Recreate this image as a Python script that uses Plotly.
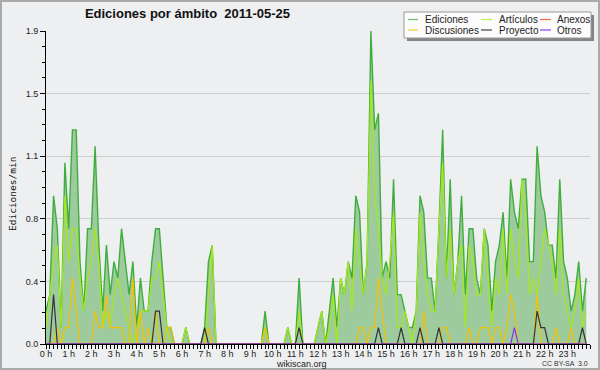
import plotly.graph_objects as go

# ---- data (edits per minute, 10-minute bins, 2011-05-25) ----
bin_minutes = list(range(0, 1440, 10))

ediciones = [
    0.2, 0.3, 0.9, 0.7, 0.1, 1.1,
    0.7, 1.3, 1.3, 0.5, 0.2, 0.7,
    0.7, 1.2, 0.6, 0.2, 0.6, 0.3,
    0.5, 0.4, 0.7, 0.5, 0.3, 0.5,
    0.1, 0.4, 0.2, 0.2, 0.5, 0.7,
    0.7, 0.4, 0.1, 0.1, 0.0, 0.0,
    0.0, 0.1, 0.0, 0.0, 0.0, 0.0,
    0.1, 0.5, 0.6, 0.0, 0.0, 0.0,
    0.0, 0.0, 0.0, 0.0, 0.0, 0.0,
    0.0, 0.0, 0.0, 0.0, 0.2, 0.0,
    0.0, 0.0, 0.0, 0.0, 0.1, 0.0,
    0.0, 0.4, 0.0, 0.0, 0.0, 0.0,
    0.1, 0.2, 0.0, 0.2, 0.4, 0.1,
    0.4, 0.3, 0.5, 0.4, 0.9, 0.8,
    0.3, 0.5, 1.9, 1.3, 1.4, 0.4,
    0.5, 0.4, 1.0, 0.3, 0.3, 0.2,
    0.1, 0.1, 0.2, 0.9, 0.8, 0.4,
    0.4, 0.2, 0.7, 1.3, 0.4, 1.0,
    0.3, 0.5, 0.9, 0.3, 0.7, 0.7,
    0.4, 0.3, 0.7, 0.6, 0.2, 0.5,
    0.6, 0.8, 0.4, 1.0, 0.8, 0.7,
    1.0, 1.0, 0.5, 0.5, 1.2, 0.9,
    0.8, 0.6, 0.6, 0.4, 1.0, 0.5,
    0.4, 0.2, 0.3, 0.5, 0.2, 0.4,
]

articulos = [
    0.1, 0.3, 0.5, 0.6, 0.1, 0.9,
    0.5, 0.7, 0.7, 0.4, 0.2, 0.4,
    0.5, 0.7, 0.5, 0.1, 0.2, 0.1,
    0.3, 0.4, 0.3, 0.2, 0.1, 0.0,
    0.1, 0.2, 0.2, 0.2, 0.4, 0.4,
    0.5, 0.3, 0.1, 0.0, 0.0, 0.0,
    0.0, 0.1, 0.0, 0.0, 0.0, 0.0,
    0.0, 0.3, 0.6, 0.0, 0.0, 0.0,
    0.0, 0.0, 0.0, 0.0, 0.0, 0.0,
    0.0, 0.0, 0.0, 0.0, 0.1, 0.0,
    0.0, 0.0, 0.0, 0.0, 0.1, 0.0,
    0.0, 0.2, 0.0, 0.0, 0.0, 0.0,
    0.1, 0.2, 0.0, 0.1, 0.3, 0.0,
    0.4, 0.3, 0.5, 0.2, 0.7, 0.5,
    0.3, 0.5, 1.6, 0.9, 0.7, 0.4,
    0.3, 0.5, 0.8, 0.1, 0.1, 0.2,
    0.1, 0.0, 0.2, 0.8, 0.5, 0.3,
    0.2, 0.2, 0.7, 1.1, 0.4, 0.7,
    0.3, 0.5, 0.6, 0.1, 0.6, 0.5,
    0.3, 0.3, 0.7, 0.4, 0.1, 0.4,
    0.3, 0.7, 0.3, 0.7, 0.5, 0.4,
    1.0, 0.8, 0.3, 0.4, 0.3, 0.5,
    0.7, 0.6, 0.5, 0.3, 0.7, 0.3,
    0.2, 0.1, 0.2, 0.4, 0.1, 0.2,
]

discusiones = [
    0.0, 0.0, 0.0, 0.1, 0.0, 0.1,
    0.1, 0.4, 0.2, 0.0, 0.0, 0.0,
    0.0, 0.2, 0.1, 0.1, 0.3, 0.1,
    0.1, 0.1, 0.1, 0.0, 0.0, 0.4,
    0.0, 0.2, 0.0, 0.1, 0.0, 0.2,
    0.0, 0.0, 0.1, 0.1, 0.0, 0.0,
    0.0, 0.0, 0.0, 0.0, 0.0, 0.0,
    0.0, 0.1, 0.0, 0.0, 0.0, 0.0,
    0.0, 0.0, 0.0, 0.0, 0.0, 0.0,
    0.0, 0.0, 0.0, 0.0, 0.1, 0.0,
    0.0, 0.0, 0.0, 0.0, 0.0, 0.0,
    0.0, 0.0, 0.0, 0.0, 0.0, 0.0,
    0.0, 0.0, 0.0, 0.0, 0.0, 0.0,
    0.0, 0.0, 0.0, 0.0, 0.0, 0.1,
    0.1, 0.0, 0.1, 0.1, 0.4, 0.2,
    0.0, 0.0, 0.0, 0.0, 0.0, 0.0,
    0.0, 0.0, 0.0, 0.0, 0.2, 0.0,
    0.0, 0.0, 0.0, 0.1, 0.1, 0.0,
    0.0, 0.0, 0.0, 0.0, 0.1, 0.0,
    0.0, 0.1, 0.1, 0.1, 0.0, 0.1,
    0.1, 0.0, 0.1, 0.3, 0.2, 0.0,
    0.0, 0.0, 0.0, 0.0, 0.3, 0.0,
    0.0, 0.0, 0.0, 0.1, 0.0, 0.0,
    0.0, 0.1, 0.0, 0.0, 0.0, 0.0,
]

proyecto = [
    0.0, 0.0, 0.3, 0.0, 0.0, 0.0,
    0.0, 0.0, 0.0, 0.0, 0.0, 0.0,
    0.0, 0.0, 0.0, 0.0, 0.0, 0.0,
    0.0, 0.0, 0.0, 0.0, 0.0, 0.0,
    0.0, 0.0, 0.0, 0.0, 0.0, 0.2,
    0.2, 0.0, 0.0, 0.0, 0.0, 0.0,
    0.0, 0.0, 0.0, 0.0, 0.0, 0.0,
    0.1, 0.0, 0.0, 0.0, 0.0, 0.0,
    0.0, 0.0, 0.0, 0.0, 0.0, 0.0,
    0.0, 0.0, 0.0, 0.0, 0.0, 0.0,
    0.0, 0.0, 0.0, 0.0, 0.0, 0.0,
    0.0, 0.1, 0.0, 0.0, 0.0, 0.0,
    0.0, 0.0, 0.0, 0.0, 0.0, 0.0,
    0.0, 0.0, 0.0, 0.0, 0.0, 0.0,
    0.0, 0.0, 0.0, 0.0, 0.1, 0.0,
    0.0, 0.0, 0.0, 0.0, 0.1, 0.0,
    0.0, 0.0, 0.0, 0.1, 0.0, 0.0,
    0.0, 0.0, 0.1, 0.0, 0.0, 0.0,
    0.0, 0.0, 0.0, 0.0, 0.0, 0.0,
    0.0, 0.0, 0.0, 0.0, 0.0, 0.0,
    0.0, 0.0, 0.0, 0.0, 0.0, 0.0,
    0.0, 0.0, 0.0, 0.0, 0.2, 0.1,
    0.1, 0.0, 0.0, 0.0, 0.0, 0.0,
    0.0, 0.0, 0.0, 0.0, 0.1, 0.0,
]

anexos = [
    0.0, 0.0, 0.0, 0.0, 0.0, 0.0,
    0.0, 0.0, 0.0, 0.0, 0.0, 0.0,
    0.0, 0.0, 0.0, 0.0, 0.0, 0.0,
    0.0, 0.0, 0.0, 0.0, 0.0, 0.0,
    0.0, 0.0, 0.0, 0.0, 0.0, 0.0,
    0.0, 0.0, 0.0, 0.0, 0.0, 0.0,
    0.0, 0.0, 0.0, 0.0, 0.0, 0.0,
    0.0, 0.0, 0.0, 0.0, 0.0, 0.0,
    0.0, 0.0, 0.0, 0.0, 0.0, 0.0,
    0.0, 0.0, 0.0, 0.0, 0.0, 0.0,
    0.0, 0.0, 0.0, 0.0, 0.0, 0.0,
    0.0, 0.0, 0.0, 0.0, 0.0, 0.0,
    0.0, 0.0, 0.0, 0.0, 0.0, 0.0,
    0.0, 0.0, 0.0, 0.0, 0.0, 0.0,
    0.0, 0.0, 0.0, 0.0, 0.0, 0.0,
    0.0, 0.0, 0.0, 0.0, 0.0, 0.0,
    0.0, 0.0, 0.0, 0.0, 0.0, 0.0,
    0.0, 0.0, 0.0, 0.0, 0.0, 0.0,
    0.0, 0.0, 0.0, 0.0, 0.0, 0.0,
    0.0, 0.0, 0.0, 0.0, 0.0, 0.0,
    0.0, 0.0, 0.0, 0.0, 0.0, 0.0,
    0.0, 0.0, 0.0, 0.0, 0.0, 0.0,
    0.0, 0.0, 0.0, 0.0, 0.0, 0.0,
    0.0, 0.0, 0.0, 0.0, 0.0, 0.0,
]

otros = [
    0.0, 0.0, 0.0, 0.0, 0.0, 0.0,
    0.0, 0.0, 0.0, 0.0, 0.0, 0.0,
    0.0, 0.0, 0.0, 0.0, 0.0, 0.0,
    0.0, 0.0, 0.0, 0.0, 0.0, 0.0,
    0.0, 0.0, 0.0, 0.0, 0.0, 0.0,
    0.0, 0.0, 0.0, 0.0, 0.0, 0.0,
    0.0, 0.0, 0.0, 0.0, 0.0, 0.0,
    0.0, 0.0, 0.0, 0.0, 0.0, 0.0,
    0.0, 0.0, 0.0, 0.0, 0.0, 0.0,
    0.0, 0.0, 0.0, 0.0, 0.0, 0.0,
    0.0, 0.0, 0.0, 0.0, 0.0, 0.0,
    0.0, 0.0, 0.0, 0.0, 0.0, 0.0,
    0.0, 0.0, 0.0, 0.0, 0.0, 0.0,
    0.0, 0.0, 0.0, 0.0, 0.0, 0.0,
    0.0, 0.0, 0.0, 0.0, 0.0, 0.0,
    0.0, 0.0, 0.0, 0.0, 0.0, 0.0,
    0.0, 0.0, 0.0, 0.0, 0.0, 0.0,
    0.0, 0.0, 0.0, 0.0, 0.0, 0.0,
    0.0, 0.0, 0.0, 0.0, 0.0, 0.0,
    0.0, 0.0, 0.0, 0.0, 0.0, 0.0,
    0.0, 0.0, 0.0, 0.0, 0.1, 0.0,
    0.0, 0.0, 0.0, 0.0, 0.0, 0.0,
    0.0, 0.0, 0.0, 0.0, 0.0, 0.0,
    0.0, 0.0, 0.0, 0.0, 0.0, 0.0,
]

series_names = ["Ediciones", "Artículos", "Anexos", "Discusiones", "Proyecto", "Otros"]
hour_ticks = list(range(24))
hour_labels = [f"{h} h" for h in hour_ticks]
y_tick_vals = [0.0, 0.38, 0.76, 1.14, 1.52, 1.9]
y_tick_labels = ["0.0", "0.4", "0.8", "1.1", "1.5", "1.9"]
title_text = "Ediciones por ámbito  2011-05-25"
y_title = "Ediciones/min"

# ---- styling ----
colors = {
    "Ediciones": "#3fae3f",
    "Artículos": "#a6e81a",
    "Anexos": "#ff6030",
    "Discusiones": "#f4c200",
    "Proyecto": "#333333",
    "Otros": "#8a33ee",
}
legend_colors = {
    "Ediciones": "#66c466",
    "Artículos": "#c2ee55",
    "Anexos": "#f46a3a",
    "Discusiones": "#f8c830",
    "Proyecto": "#444444",
    "Otros": "#9040ee",
}
W, H = 600, 370
ML, MR, MT, MB = 46, 10, 31, 26
PW, PH = W - ML - MR, H - MT - MB


def px(xp):
    return (xp - ML) / PW


def py(yp):
    return (H - MB - yp) / PH


x_hours = [m / 60 for m in bin_minutes]
FONT = "Liberation Sans, Arial, sans-serif"

fig = go.Figure()
fig.add_trace(go.Scatter(
    x=x_hours, y=ediciones, name="Ediciones", mode="lines",
    line=dict(color=colors["Ediciones"], width=1.4),
    fill="tozeroy", fillcolor="#9ecb9e", showlegend=False,
))
for name, vals, w in [("Artículos", articulos, 1.2), ("Discusiones", discusiones, 1.2),
                      ("Anexos", anexos, 1.2), ("Proyecto", proyecto, 1.2), ("Otros", otros, 1.2)]:
    fig.add_trace(go.Scatter(
        x=x_hours, y=vals, name=name, mode="lines",
        line=dict(color=colors[name], width=w), showlegend=False,
    ))

shapes = []
annotations = []

# outer frame
shapes.append(dict(type="rect", xref="paper", yref="paper",
                   x0=px(1), x1=px(599), y0=py(369), y1=py(1),
                   line=dict(color="#aaaaaa", width=2), fillcolor="rgba(0,0,0,0)", layer="above"))

# legend box with shadow
shapes.append(dict(type="rect", xref="paper", yref="paper",
                   x0=px(407), x1=px(594), y0=py(41), y1=py(15),
                   line=dict(width=0), fillcolor="#858585", layer="above"))
shapes.append(dict(type="rect", xref="paper", yref="paper",
                   x0=px(404), x1=px(591), y0=py(38), y1=py(12),
                   line=dict(color="#999999", width=1), fillcolor="#fcfcfc", layer="above"))

col_line_x = [(408, 418), (481, 492), (540, 551)]
col_text_x = [423, 497, 555]
row_y = [19.5, 30]
for k, name in enumerate(series_names):
    r, c = divmod(k, 3)
    x0, x1 = col_line_x[c]
    shapes.append(dict(type="line", xref="paper", yref="paper",
                       x0=px(x0), x1=px(x1), y0=py(row_y[r]), y1=py(row_y[r]),
                       line=dict(color=legend_colors[name], width=1.2), layer="above"))
    annotations.append(dict(xref="paper", yref="paper", x=px(col_text_x[c]), y=py(row_y[r]),
                            text=name, showarrow=False, xanchor="left", yanchor="middle",
                            font=dict(family=FONT, size=10, color="#222222")))

annotations.append(dict(xref="paper", yref="paper", x=px(12), y=py(194), text=y_title,
                        textangle=-90, showarrow=False, xanchor="center", yanchor="middle",
                        font=dict(family="DejaVu Sans Mono, monospace", size=9.5, color="#111111")))
annotations.append(dict(xref="paper", yref="paper", x=px(301), y=py(363.5), text="wikiscan.org",
                        showarrow=False, xanchor="center", yanchor="middle",
                        font=dict(family=FONT, size=9, color="#222222")))
annotations.append(dict(xref="paper", yref="paper", x=px(590), y=py(363.5), text="CC BY-SA  3.0",
                        showarrow=False, xanchor="right", yanchor="middle",
                        font=dict(family=FONT, size=7, color="#333333")))

fig.update_layout(
    width=W, height=H,
    margin=dict(l=ML, r=MR, t=MT, b=MB, pad=0),
    paper_bgcolor="#eeeff0", plot_bgcolor="#eeeff0",
    title=dict(text="<b>" + title_text + "</b>", x=187.5 / W, xanchor="center",
               y=1 - 13.5 / H, yanchor="middle",
               font=dict(family=FONT, size=13, color="#111111")),
    shapes=shapes, annotations=annotations,
    showlegend=False,
    xaxis=dict(
        range=[0, 24], tickmode="array", tickvals=hour_ticks, ticktext=hour_labels,
        showgrid=False, zeroline=False, showline=True, linecolor="#000000", linewidth=1,
        ticks="outside", ticklen=4, tickcolor="#000000", tickwidth=1,
        ticklabelstandoff=-3,
        tickfont=dict(family=FONT, size=9, color="#222222"),
        minor=dict(dtick=1 / 6, tick0=0, ticks="outside", ticklen=4, tickcolor="#000000", showgrid=False),
        fixedrange=True,
    ),
    yaxis=dict(
        range=[0, 1.9], tickmode="array", tickvals=y_tick_vals, ticktext=y_tick_labels,
        showgrid=True, gridcolor="#cfcfcf", gridwidth=1, zeroline=False,
        showline=True, linecolor="#000000", linewidth=1,
        ticks="outside", ticklen=5, tickcolor="#000000", tickwidth=1,
        tickfont=dict(family=FONT, size=9, color="#222222"),
        minor=dict(dtick=0.095, tick0=0, ticks="outside", ticklen=3, tickcolor="#000000", showgrid=False),
        fixedrange=True,
    ),
)

fig.write_html(
    "out.html",
    config={"displayModeBar": False},
    post_script="document.body.style.margin='0';document.body.style.overflow='hidden';",
)
